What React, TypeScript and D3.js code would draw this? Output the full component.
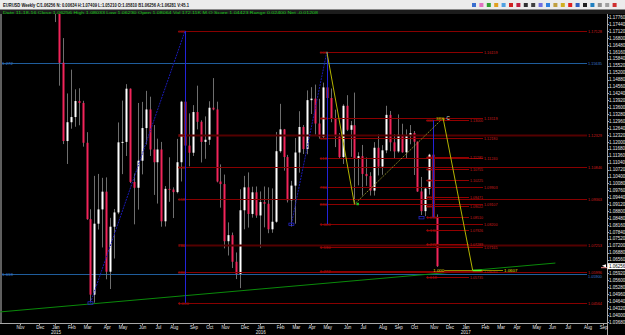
import React from "react";
import * as d3 from "d3";

// ---------- data (EURUSD weekly) ----------
const firstWeek = "2015-01-04";
const opens = [1.1945,1.1841,1.1566,1.1204,1.1291,1.1315,1.1389,1.1380,1.1196,1.0843,1.0494,1.0822,1.0888,1.0970,1.0600,1.0808,1.0874,1.1198,1.1200,1.1446,1.1015,1.0988,1.1113,1.1264,1.1350,1.1165,1.1106,1.1165,1.0833,1.0983,1.0980,1.0968,1.1106,1.1386,1.1183,1.1150,1.1338,1.1293,1.1200,1.1210,1.1358,1.1350,1.1017,1.1005,1.0741,1.0769,1.0646,1.0590,1.0884,1.0990,1.0867,1.0967,1.0860,1.0922,1.0914,1.0796,1.0831,1.1157,1.1258,1.1130,1.0930,1.0998,1.1151,1.1269,1.1167,1.1393,1.1400,1.1285,1.1224,1.1452,1.1403,1.1310,1.1225,1.1130,1.1367,1.1256,1.1277,1.1123,1.1134,1.1052,1.1042,1.0975,1.1173,1.1086,1.1161,1.1325,1.1198,1.1156,1.1233,1.1152,1.1227,1.1241,1.1201,1.0971,1.0880,1.0984,1.1141,1.0853];
const highs = [1.1977,1.1860,1.1680,1.1424,1.1534,1.1443,1.1448,1.1390,1.1245,1.0889,1.1043,1.1052,1.1034,1.1036,1.0849,1.0890,1.1290,1.1391,1.1467,1.1447,1.1054,1.1380,1.1385,1.1436,1.1409,1.1278,1.1215,1.1200,1.0996,1.1129,1.0990,1.1214,1.1390,1.1713,1.1332,1.1370,1.1460,1.1300,1.1318,1.1388,1.1495,1.1386,1.1096,1.1049,1.0828,1.0781,1.0689,1.0981,1.1043,1.1059,1.0993,1.0994,1.0971,1.0994,1.0990,1.0985,1.1246,1.1376,1.1260,1.1140,1.1020,1.1218,1.1342,1.1278,1.1438,1.1453,1.1465,1.1399,1.1474,1.1616,1.1447,1.1349,1.1241,1.1374,1.1416,1.1297,1.1428,1.1152,1.1186,1.1128,1.1060,1.1199,1.1234,1.1185,1.1367,1.1343,1.1235,1.1327,1.1284,1.1258,1.1278,1.1250,1.1202,1.1038,1.0990,1.1145,1.1300,1.0865];
const lows = [1.1754,1.1460,1.1190,1.1098,1.1261,1.1270,1.1277,1.1178,1.0840,1.0462,1.0457,1.0795,1.0712,1.0565,1.0520,1.0661,1.0866,1.1051,1.1135,1.1010,1.0819,1.0887,1.1050,1.1188,1.1135,1.0955,1.0915,1.0808,1.0809,1.0923,1.0848,1.0962,1.1017,1.1156,1.1087,1.1135,1.1258,1.1105,1.1122,1.1186,1.1346,1.1013,1.0896,1.0708,1.0675,1.0617,1.0566,1.0524,1.0796,1.0804,1.0850,1.0849,1.0711,1.0805,1.0778,1.0780,1.0826,1.1150,1.1067,1.0920,1.0809,1.0822,1.1058,1.1144,1.1143,1.1329,1.1234,1.1215,1.1217,1.1380,1.1291,1.1176,1.1125,1.1098,1.1250,1.1131,1.0912,1.0999,1.0952,1.0997,1.0952,1.0952,1.1045,1.1048,1.1148,1.1157,1.1123,1.1150,1.1150,1.1122,1.1189,1.1047,1.0969,1.0862,1.0857,1.0956,1.0850,1.0622];
const closes = [1.1841,1.1566,1.1204,1.1291,1.1315,1.1389,1.1380,1.1196,1.0843,1.0494,1.0822,1.0888,1.0970,1.0600,1.0808,1.0874,1.1198,1.1200,1.1446,1.1015,1.0988,1.1113,1.1264,1.1350,1.1165,1.1106,1.1165,1.0833,1.0983,1.0980,1.0968,1.1106,1.1386,1.1183,1.1150,1.1338,1.1293,1.1200,1.1210,1.1358,1.1350,1.1017,1.1005,1.0741,1.0769,1.0646,1.0590,1.0884,1.0990,1.0867,1.0967,1.0860,1.0922,1.0914,1.0796,1.0831,1.1157,1.1258,1.1130,1.0930,1.0998,1.1151,1.1269,1.1167,1.1393,1.1400,1.1285,1.1224,1.1452,1.1403,1.1310,1.1225,1.1130,1.1367,1.1256,1.1277,1.1123,1.1134,1.1052,1.1042,1.0975,1.1173,1.1086,1.1161,1.1325,1.1198,1.1156,1.1233,1.1152,1.1227,1.1241,1.1201,1.0971,1.0880,1.0984,1.1141,1.0853,1.06256];

const currentPrice = 1.06256;

const monthNames = ["Nov","Dec","Jan","Feb","Mar","Apr","May","Jun","Jul","Aug","Sep","Oct","Nov","Dec","Jan","Feb","Mar","Apr","May","Jun","Jul","Aug","Sep","Oct","Nov","Dec","Jan","Feb","Mar","Apr","May","Jun","Jul","Aug","Sep"];
const yearNames = ["2015", "2016", "2017"];
const priceTickTop = 1.1776;
const priceTickStep = 0.0032;
const priceTickCount = 45;

// Fibonacci sets: [high, low], [high week, low week]
const fib1Prices = [1.17128, 1.04564];
const fib1Weeks = [33, 9];
const fib1Levels = [0, 0.382, 0.5, 0.618, 0.786, 0.886, 1];
const fib1Tags = ["000", "382", "500", "618", "786", "886", "1.000"];

const fib2Prices = [1.16159, 1.0820];
const fib2Weeks = [69, 60];
const fib2Levels = [0, 0.382, 0.5, 0.618, 0.786, 0.886, 1, 1.13, 1.272];
const fib2Tags = ["000", "382", "500", "618", "786", "886", "1.000", "1.130", "1.272"];

const fib3Prices = [1.1300, 1.0851];
const fib3Weeks = [96, 96];
const fib3Levels = [0, 0.382, 0.5, 0.618, 0.786, 0.886, 1, 1.13, 1.272, 1.618];
const fib3Tags = ["000", "382", "500", "618", "786", "886", "1.000", "1.130", "1.272", "1.618"];

const blueLevelPrices = [1.15635, 1.05900];
const blueLevelTags = ["1.272", "1.618"];

const trendWeeks = [-14, 127];
const trendPrices = [1.0414, 1.0640];

const patternWeeks = [69, 76, 98.5, 106];
const patternPrices = [1.1616, 1.0912, 1.1310, 1.0607];
const patternTarget = 1.0607;

// ---------- layout ----------
const W = 625, H = 335;
const plotTop = 14, plotBottom = 323.5, plotRight = 607;
const FONT = "'Liberation Sans', Arial, sans-serif";

const x = d3.scaleLinear().domain([0, 97]).range([55, 437.18]);
const y = d3.scaleLinear().domain([1.1776, 1.0368]).range([17.3, 321.9]);
const f5 = d3.format(".5f");
const f4 = d3.format(".4f");

const week0 = new Date(firstWeek + "T00:00:00");
const weekOf = (d: Date) => Math.round((d.getTime() - week0.getTime()) / (7 * 864e5));

const months = monthNames.map((name, k) => {
  const d = new Date(2014, 10 + k, 1);
  const sun = d3.timeSunday.ceil(d);
  return { name, w: weekOf(sun), jan: d.getMonth() === 0, year: d.getFullYear() };
});

const priceTicks = d3.range(priceTickCount).map((i) => priceTickTop - i * priceTickStep);

const iconColors = ["#3a6fd0","#e070c0","#30a030","#e0a020","#50a0e0","#d02020","#c02040","#303030","#404040","#7070e0","#3080e0","#c0a040","#d0b020","#e02020","#3060c0","#202020","#2080c0","#909090","#a0a0a0","#d03030"];

function FibSet(props: {
  prices: number[]; weeks: number[]; levels: number[]; tags: string[];
  endX: number; strong: number[]; color: string; strongColor: string; labelLen: number;
}) {
  const { prices, weeks, levels, tags, endX, strong, color, strongColor, labelLen } = props;
  const hi = prices[0], lo = prices[1];
  const startX = x(weeks[0]) - 7;
  return (
    <g>
      {levels.map((l, i) => {
        const p = hi - l * (hi - lo);
        const yy = Math.round(y(p)) + 0.5;
        const isStrong = strong.includes(l);
        return (
          <g key={i}>
            <line x1={startX} x2={endX} y1={yy} y2={yy}
              stroke={isStrong ? strongColor : color} strokeWidth={isStrong ? 2 : 1} />
            <text x={startX} y={yy + 1.6} fontSize={4.3} fill="#b01414" fontFamily={FONT}>{tags[i]}</text>
            <text x={endX + 1} y={yy + 1.6} fontSize={4.3} fill="#cc1c1c" fontFamily={FONT}
              textLength={labelLen} lengthAdjust="spacingAndGlyphs">{f5(p)}</text>
          </g>
        );
      })}
    </g>
  );
}

export default function App() {
  const trendLine = d3.line<number>()
    .x((_, i) => x(trendWeeks[i]))
    .y((p) => y(p));
  const patternPts = patternWeeks.map((w, i) => [x(w), y(patternPrices[i])]);
  const curY = y(currentPrice);

  return (
    <div style={{ position: "fixed", left: 0, top: 0, width: W, height: H }}>
      <svg width={W} height={H} style={{ display: "block" }}>
        <defs>
          <clipPath id="plot">
            <rect x={0} y={plotTop} width={plotRight} height={plotBottom - plotTop} />
          </clipPath>
        </defs>
        {/* background */}
        <rect x={0} y={0} width={W} height={H} fill="#000" />
        {/* title bar */}
        <rect x={0} y={0} width={W} height={9} fill="#ececec" />
        <line x1={0} x2={W} y1={9.5} y2={9.5} stroke="#8a8a8a" />
        <text x={3} y={7.2} fontSize={4.6} fontWeight="bold" fill="#111" fontFamily={FONT}
          textLength={186} lengthAdjust="spacingAndGlyphs">
          EURUSD Weekly C/1.06256 N: 0.00634 H:1.07409 L:1.05210 O:1.05810 B1.06256 A:1.06281 V:45.1
        </text>
        {iconColors.map((c, i) => (
          <rect key={i} x={472 + i * 7.4} y={3} width={4} height={4} fill={c} />
        ))}
        {/* info line */}
        <rect x={0} y={10} width={W} height={4} fill="#1c1c1c" />
        <text x={3} y={13.6} fontSize={4.4} fill="#14c814" fontFamily={FONT}
          textLength={315} lengthAdjust="spacingAndGlyphs">
          Date 11-18-16   Close 1.06256   High 1.08033   Low 1.06230   Open 1.08064   Vol 172.11K   M.O   Score 1.04423   Range 0.02400   Net -0.01208
        </text>

        <g clipPath="url(#plot)">
          {/* left border */}
          <line x1={1} x2={1} y1={plotTop} y2={plotBottom} stroke="#bdbdbd" />

          {/* blue horizontal levels */}
          {blueLevelPrices.map((p, i) => {
            const yy = Math.round(y(p)) + 0.5;
            return (
              <g key={"bl" + i}>
                <line x1={2} x2={587} y1={yy} y2={yy} stroke="#1f5d9c" />
                <text x={2} y={yy + 1.6} fontSize={4.4} fill="#3a7ad0" fontFamily={FONT}>{blueLevelTags[i]}</text>
              </g>
            );
          })}

          {/* green trend line */}
          <path d={trendLine(trendPrices) || ""} fill="none" stroke="#0a8a0a" strokeWidth={1} />

          {/* candles */}
          {opens.map((o, i) => {
            const c = closes[i];
            const h = Math.max(highs[i], o, c);
            const l = Math.min(lows[i], o, c);
            const xr = Math.round(x(i));
            const top = y(Math.max(o, c));
            const bot = y(Math.min(o, c));
            const bull = c >= o;
            return (
              <g key={"c" + i}>
                <line x1={xr + 0.5} x2={xr + 0.5} y1={y(h)} y2={y(l)} stroke="#6e6e6e" strokeWidth={1} />
                <rect x={xr - 0.5} y={top} width={2} height={Math.max(1, bot - top)}
                  fill={bull ? "#ffffff" : "#f2245a"} />
              </g>
            );
          })}

          {/* fibonacci sets */}
          <FibSet prices={fib1Prices} weeks={fib1Weeks} levels={fib1Levels} tags={fib1Tags}
            endX={587} strong={[0.382, 0.786]} color="#880000" strongColor="#540000" labelLen={14} />
          <FibSet prices={fib2Prices} weeks={fib2Weeks} levels={fib2Levels} tags={fib2Tags}
            endX={483} strong={[]} color="#8c0000" strongColor="#8c0000" labelLen={13.5} />
          <FibSet prices={fib3Prices} weeks={fib3Weeks} levels={fib3Levels} tags={fib3Tags}
            endX={469} strong={[]} color="#940000" strongColor="#940000" labelLen={13} />

          {/* blue fib anchors */}
          {[
            [fib1Prices, fib1Weeks],
            [fib2Prices, fib2Weeks],
            [fib3Prices, fib3Weeks],
          ].map(([pr, wk], i) => {
            const xh = Math.round(x(wk[0])) + 0.5;
            const xl = x(wk[1]);
            return (
              <g key={"bf" + i}>
                {wk[0] !== wk[1] && (
                  <line x1={xl} y1={y(pr[1])} x2={x(wk[0])} y2={y(pr[0])}
                    stroke="#1a1ab4" strokeWidth={1} strokeDasharray="2,1" />
                )}
                <line x1={xh} x2={xh} y1={y(pr[0])} y2={y(pr[1])} stroke="#2323d8" strokeWidth={1} />
                <rect x={(wk[0] !== wk[1] ? xl : xh - 12) - 2.5} y={y(pr[1]) - 1} width={5} height={2.5}
                  fill="none" stroke="#2a2ae0" strokeWidth={0.7} />
              </g>
            );
          })}

          {/* harmonic pattern */}
          <line x1={patternPts[0][0]} y1={patternPts[0][1]} x2={patternPts[1][0]} y2={patternPts[1][1]}
            stroke="#b4b400" strokeWidth={1} />
          <line x1={patternPts[1][0]} y1={patternPts[1][1]} x2={patternPts[2][0]} y2={patternPts[2][1]}
            stroke="#a8a830" strokeWidth={0.8} strokeDasharray="1.5,1" />
          <line x1={patternPts[2][0]} y1={patternPts[2][1]} x2={patternPts[3][0]} y2={patternPts[3][1]}
            stroke="#b4b400" strokeWidth={1} />
          <rect x={patternPts[1][0] + 2} y={patternPts[1][1] - 1.5} width={2.5} height={2.5} fill="#20c020" />
          <text x={patternPts[2][0] - 7} y={patternPts[2][1] + 1.5} fontSize={4.4} fill="#d0d000" fontFamily={FONT}>38%</text>
          <text x={patternPts[2][0] + 3.5} y={patternPts[2][1] + 1.5} fontSize={4.6} fill="#e8e8e8" fontFamily={FONT}>C</text>
          {(() => {
            const yy = Math.round(y(patternTarget)) + 0.5;
            return (
              <g>
                <line x1={x(96) + 11} x2={x(113.7)} y1={yy} y2={yy} stroke="#8c8c00" strokeWidth={1.2} />
                <line x1={x(106)} x2={x(108.3)} y1={yy} y2={yy} stroke="#5cff2a" strokeWidth={1.4} />
                <text x={x(96)} y={yy + 1.6} fontSize={4.4} fill="#e0e000" fontFamily={FONT}>1.000</text>
                <text x={x(113.7) + 1} y={yy + 1.6} fontSize={4.4} fill="#e0e000" fontFamily={FONT}>{f4(patternTarget)}</text>
              </g>
            );
          })()}
        </g>

        {/* blue level price labels (outside clip so they sit beside the red ones) */}
        {blueLevelPrices.map((p, i) => {
          const yy = Math.round(y(p)) + 0.5;
          return (
            <text key={"blt" + i} x={588} y={yy + 1.6 + (i === 1 ? 2.2 : 0)} fontSize={4.3} fill="#3a7ad0"
              fontFamily={FONT} textLength={14} lengthAdjust="spacingAndGlyphs">{f5(p)}</text>
          );
        })}

        {/* right price axis */}
        <line x1={plotRight + 0.5} x2={plotRight + 0.5} y1={plotTop} y2={H} stroke="#a8a8a8" />
        {priceTicks.map((p, i) => {
          const yy = y(p);
          if (Math.abs(yy - curY) < 4) return null;
          return (
            <g key={"pt" + i}>
              <line x1={plotRight} x2={plotRight + 2} y1={Math.round(yy) + 0.5} y2={Math.round(yy) + 0.5} stroke="#a8a8a8" />
              <text x={609} y={yy + 1.6} fontSize={4.5} fill="#e6e6e6" fontFamily={FONT}>{f5(p)}</text>
            </g>
          );
        })}
        {/* current price marker */}
        <line x1={601} x2={607} y1={curY + 1.5} y2={curY + 1.5} stroke="#f08080" />
        <path d={`M${602},${curY - 0.3} l4,-1.6 l0,3.2 z`} fill="#ffffff" />
        <rect x={607.5} y={curY - 3} width={17.5} height={6} fill="#ffffff" />
        <text x={609} y={curY + 1.6} fontSize={4.5} fill="#000" fontFamily={FONT}>{f5(currentPrice)}</text>

        {/* bottom time axis */}
        <line x1={0} x2={plotRight} y1={plotBottom} y2={plotBottom} stroke="#a8a8a8" />
        {months.map((m, i) => {
          const xx = x(m.w);
          if (xx < 3 || xx > 606) return null;
          return (
            <g key={"m" + i}>
              <line x1={Math.round(xx) + 0.5} x2={Math.round(xx) + 0.5} y1={plotBottom} y2={plotBottom + 2} stroke="#a8a8a8" />
              <text x={xx + 1} y={328.8} fontSize={4.5} fill="#e6e6e6" fontFamily={FONT} textAnchor="middle">{m.name}</text>
              {m.jan && (
                <text x={xx + 1} y={333.6} fontSize={4.5} fill="#e6e6e6" fontFamily={FONT} textAnchor="middle">
                  {yearNames[m.year - 2015]}
                </text>
              )}
            </g>
          );
        })}
      </svg>
    </div>
  );
}
